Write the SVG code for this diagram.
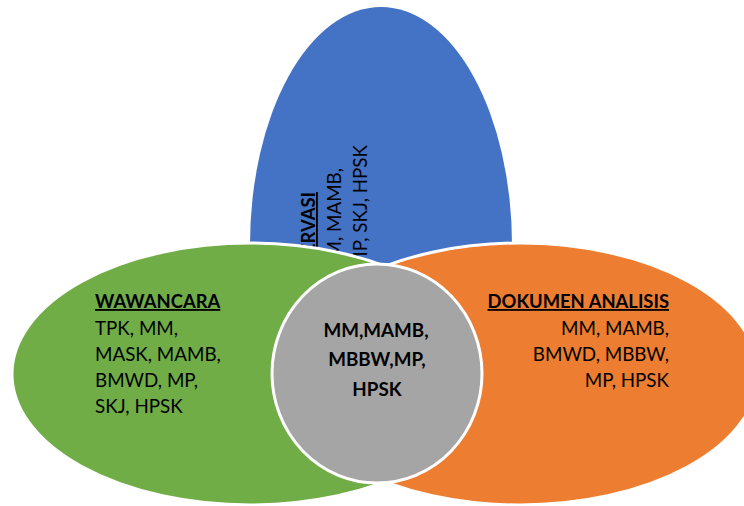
<svg xmlns="http://www.w3.org/2000/svg" width="744" height="506" viewBox="0 0 744 506">
<style>
.shape{stroke:#FFFFFF;stroke-width:3}
.t{font-family:Lato,"Liberation Sans",sans-serif;font-size:18.8px;fill:#000000}
.b{font-weight:bold}
.h{font-size:18.4px}
.u{text-decoration:underline}
</style>
<rect width="744" height="506" fill="#FFFFFF"/>
<g id="observasi">
<ellipse cx="381" cy="245" rx="131" ry="238" fill="#4472C4"/>
<text class="t b u h" text-anchor="end" transform="translate(315,192) rotate(-90)">OBSERVASI</text>
<text class="t" text-anchor="end" transform="translate(341,168) rotate(-90)">MM, MAMB,</text>
<text class="t" text-anchor="end" transform="translate(367,145) rotate(-90)">MP, SKJ, HPSK</text>
</g>
<g id="wawancara">
<ellipse class="shape" cx="250" cy="374" rx="238" ry="131" fill="#70AD47"/>
</g>
<g id="dokumen">
<ellipse class="shape" cx="520" cy="374" rx="238" ry="131" fill="#ED7D31"/>
</g>
<g id="irisan">
<ellipse class="shape" cx="377" cy="373.5" rx="105" ry="109.5" fill="#A5A5A5"/>
<text class="t b" text-anchor="middle" x="376" y="337">MM,MAMB,</text>
<text class="t b" text-anchor="middle" x="377" y="366">MBBW,MP,</text>
<text class="t b" text-anchor="middle" x="377" y="396">HPSK</text>
</g>
<g id="wawancara-text">
<text class="t b u h" x="95" y="308">WAWANCARA</text>
<text class="t" x="95" y="335">TPK, MM,</text>
<text class="t" x="95" y="361">MASK, MAMB,</text>
<text class="t" x="95" y="387">BMWD, MP,</text>
<text class="t" x="95" y="413">SKJ, HPSK</text>
</g>
<g id="dokumen-text">
<text class="t b u h" text-anchor="end" x="669" y="308">DOKUMEN ANALISIS</text>
<text class="t" text-anchor="end" x="669" y="335">MM, MAMB,</text>
<text class="t" text-anchor="end" x="669" y="361">BMWD, MBBW,</text>
<text class="t" text-anchor="end" x="669" y="387">MP, HPSK</text>
</g>
</svg>
